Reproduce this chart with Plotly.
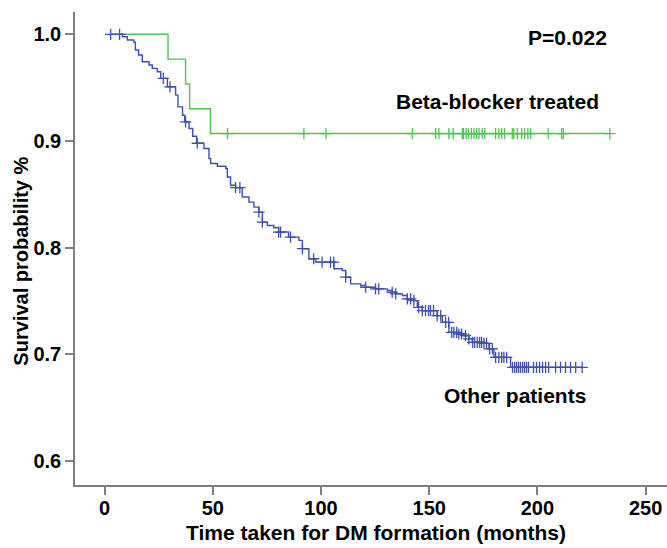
import numpy as np
import plotly.graph_objects as go

# Beta-blocker treated group: step times (months) and survival levels
bb_time = [7.4, 29.3, 37.4, 39.3, 48.9, 233.5]
bb_surv = [1.0, 0.9767, 0.9535, 0.9302, 0.9070, 0.9070]
bb_censor = [56.8, 92.1, 102.3, 142.2, 153.0, 154.5, 159.1, 161.1, 165.3, 165.9,
             167.1, 168.2, 169.5, 170.7, 171.9, 173.0, 174.5, 175.7, 180.7, 182.2,
             183.5, 184.8, 188.4, 189.1, 190.7, 192.7, 194.1, 195.6, 196.9, 205.0,
             211.2, 212.0, 233.5]

# Other patients: step times (months) and survival levels
op_time = [2.8, 8.2, 10.5, 13.5, 14.2, 15.7, 17.4, 20.5, 22.0, 24.3, 25.9, 29.0,
           32.8, 33.9, 36.0, 37.0, 39.0, 40.7, 42.5, 45.9, 48.2, 49.0, 52.1, 56.0,
           56.7, 58.2, 60.5, 63.6, 66.7, 69.0, 71.2, 72.9, 75.2, 78.2, 80.4, 85.0,
           89.8, 91.4, 94.4, 97.5, 106.0, 109.8, 111.4, 113.7, 118.3, 120.6, 125.2,
           130.6, 132.9, 134.5, 137.6, 139.9, 142.9, 144.5, 146.8, 153.7, 156.1,
           159.1, 163.7, 166.0, 168.3, 169.9, 175.3, 177.6, 179.9, 187.6, 220.7]
op_surv = [1.0, 0.9977, 0.9946, 0.9925, 0.9853, 0.9806, 0.9743, 0.9712, 0.9681,
           0.9649, 0.9587, 0.9508, 0.9430, 0.9320, 0.9242, 0.9179, 0.9117, 0.9045,
           0.8979, 0.8930, 0.8836, 0.8789, 0.8763, 0.8742, 0.8663, 0.8585, 0.8563,
           0.8475, 0.8428, 0.8381, 0.8334, 0.8240, 0.8209, 0.8188, 0.8147, 0.8100,
           0.8069, 0.7991, 0.7897, 0.7865, 0.7803, 0.7787, 0.7724, 0.7662, 0.7646,
           0.7630, 0.7615, 0.7599, 0.7583, 0.7568, 0.7552, 0.7521, 0.7505, 0.7442,
           0.7411, 0.7364, 0.7301, 0.7207, 0.7192, 0.7176, 0.7146, 0.7114, 0.7104,
           0.7052, 0.6973, 0.6879, 0.6879]
op_censor = [2.8, 6.9, 27.1, 30.2, 37.4, 42.8, 60.5, 62.5, 71.3, 72.9, 80.4, 81.3,
             85.9, 91.4, 96.6, 100.5, 104.4, 105.9, 111.4, 120.6, 125.2, 126.7,
             132.9, 134.5, 139.9, 141.4, 142.9, 145.1, 146.8, 148.3, 149.7, 150.6,
             152.0, 153.7, 155.3, 157.6, 159.0, 160.4, 161.4, 162.7, 163.7, 165.0,
             166.8, 168.3, 170.1, 171.0, 172.2, 173.3, 174.2, 175.3, 176.5, 177.9,
             179.2, 180.7, 182.2, 183.5, 184.5, 185.8, 188.5, 189.5, 190.4, 191.3,
             192.2, 193.2, 194.1, 195.0, 195.9, 198.2, 199.6, 201.0, 202.4, 203.8,
             205.2, 208.4, 210.7, 213.0, 215.3, 217.7, 220.7]

x_ticks = [0, 50, 100, 150, 200, 250]
y_ticks = [0.6, 0.7, 0.8, 0.9, 1.0]
y_tick_text = ["0.6", "0.7", "0.8", "0.9", "1.0"]

GREEN = "#55c155"
BLUE = "#3d50b2"
FONT = "Liberation Sans"


def level_at(times, levels, t):
    idx = np.searchsorted(np.array(times), t, side="right") - 1
    idx = np.clip(idx, 0, len(levels) - 1)
    return [levels[i] for i in idx]


fig = go.Figure()

fig.add_trace(go.Scatter(x=bb_time, y=bb_surv, mode="lines", line=dict(color=GREEN, width=1.4, shape="hv"),
                         showlegend=False, hoverinfo="skip"))
fig.add_trace(go.Scatter(x=bb_censor, y=level_at(bb_time, bb_surv, bb_censor), mode="markers",
                         marker=dict(symbol="cross-thin", size=8, line=dict(color=GREEN, width=1.3)),
                         showlegend=False))
fig.add_trace(go.Scatter(x=op_time, y=op_surv, mode="lines", line=dict(color=BLUE, width=1.4, shape="hv"),
                         showlegend=False, hoverinfo="skip"))
fig.add_trace(go.Scatter(x=op_censor, y=level_at(op_time, op_surv, op_censor), mode="markers",
                         marker=dict(symbol="cross-thin", size=8, line=dict(color=BLUE, width=1.3)),
                         showlegend=False))

bold = dict(family=FONT, size=21, color="black", weight="bold")

fig.add_annotation(x=214, y=0.997, text="P=0.022", showarrow=False, font=bold, xanchor="center", yanchor="middle")
fig.add_annotation(x=181.6, y=0.937, text="Beta-blocker treated", showarrow=False, font=bold,
                   xanchor="center", yanchor="middle")
fig.add_annotation(x=189.5, y=0.662, text="Other patients", showarrow=False, font=bold,
                   xanchor="center", yanchor="middle")
# axis titles
fig.add_annotation(xref="paper", yref="paper", x=(376 - 75) / 592, y=(485 - 532) / 473,
                   text="Time taken for DM formation (months)", showarrow=False, font=bold,
                   xanchor="center", yanchor="middle")
fig.add_annotation(xref="paper", yref="y", x=(21 - 75) / 592, y=0.787,
                   text="Survival probability %", showarrow=False, textangle=-90,
                   font=dict(family=FONT, size=20, color="black", weight="bold"),
                   xanchor="center", yanchor="middle")

fig.update_layout(
    width=667, height=548,
    margin=dict(l=75, r=0, t=12, b=63),
    paper_bgcolor="white", plot_bgcolor="white",
    font=dict(family=FONT, color="black"),
)
fig.update_xaxes(
    range=[-13.7, 259.9], tickvals=x_ticks, ticks="outside", ticklen=8, tickwidth=1.5,
    tickcolor="#808080", showline=True, linecolor="#808080", linewidth=1.5,
    showgrid=False, zeroline=False, tickfont=dict(family=FONT, size=20, color="black", weight="bold"),
    ticklabelstandoff=-4,
)
fig.update_yaxes(
    range=[0.5777, 1.0209], tickvals=y_ticks, ticktext=y_tick_text, ticks="outside", ticklen=8,
    tickwidth=1.5, tickcolor="#808080", showline=True, linecolor="#808080", linewidth=1.5,
    showgrid=False, zeroline=False, tickfont=dict(family=FONT, size=20, color="black", weight="bold"),
)

fig.write_html("out.html", config={"displayModeBar": False},
               post_script="document.body.style.margin='0';document.body.style.overflow='hidden';")
